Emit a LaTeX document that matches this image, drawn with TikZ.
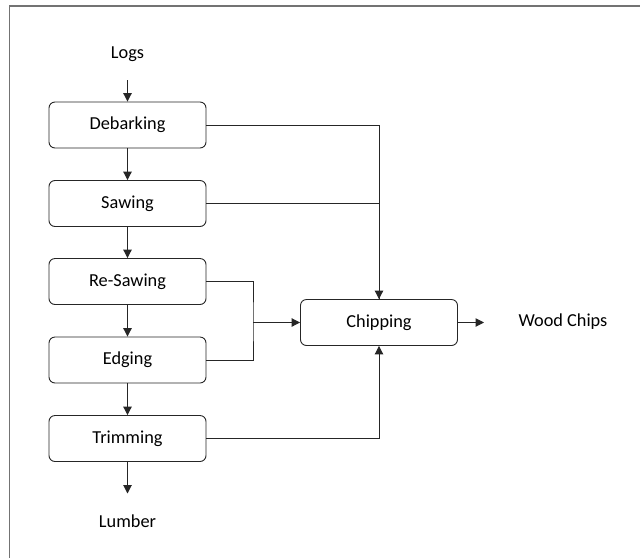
\documentclass[tikz,border=0pt]{standalone}
\usepackage{fontspec}
\setmainfont{Carlito}
\usetikzlibrary{arrows.meta}
\begin{document}
\begin{tikzpicture}[x=1pt,y=-1pt,
  stepbox/.style={draw=black!85,line width=0.9pt,rounded corners=6pt,
    minimum width=157pt,minimum height=46pt,inner sep=0pt,font=\fontsize{18.3}{20}\selectfont},
  plain/.style={inner sep=1pt,font=\fontsize{18.3}{20}\selectfont},
  flow/.style={draw=black!85,line width=1pt,-{Triangle[length=8.5pt,width=8.5pt]}},
  link/.style={draw=black!85,line width=1pt}]
\useasboundingbox (0,0) rectangle (640,558);
% frame, open to the right and bottom
\draw[black!55,line width=1.6pt] (9.5,558) -- (9.5,6) -- (640,6);

% process steps
\node[stepbox] (deb) at (127.5,125) {Debarking};
\node[stepbox] (saw) at (127.5,203.5) {Sawing};
\node[stepbox] (res) at (127.5,281.5) {Re-Sawing};
\node[stepbox] (edg) at (127.5,360) {Edging};
\node[stepbox] (tri) at (127.5,438.5) {Trimming};
\node[stepbox] (chi) at (379,322.5) {Chipping};

% inputs and outputs
\node[plain] (logs) at (127.5,54) {Logs};
\node[plain] (lum) at (127.5,521) {Lumber};
\node[plain] (wc) at (563,322) {Wood Chips};

\coordinate (logsend) at (127.5,80);
\coordinate (lumend) at (127.5,493.5);
\coordinate (wcend) at (484,322.5);
\coordinate (join) at (253,322.5);

% main line
\draw[flow] (logsend) -- (deb);
\draw[flow] (deb) -- (saw);
\draw[flow] (saw) -- (res);
\draw[flow] (res) -- (edg);
\draw[flow] (edg) -- (tri);
\draw[flow] (tri.south) -- (lumend);

% residues to chipping
\draw[link] (deb.east) -| (chi.north);
\draw[flow] (saw.east) -| (chi.north);
\draw[link] (res.east) -| (join) |- (edg.east);
\draw[flow] (join) -- (chi.west);
\draw[flow] (tri.east) -| (chi.south);
\draw[flow] (chi.east) -- (wcend);
\end{tikzpicture}
\end{document}
